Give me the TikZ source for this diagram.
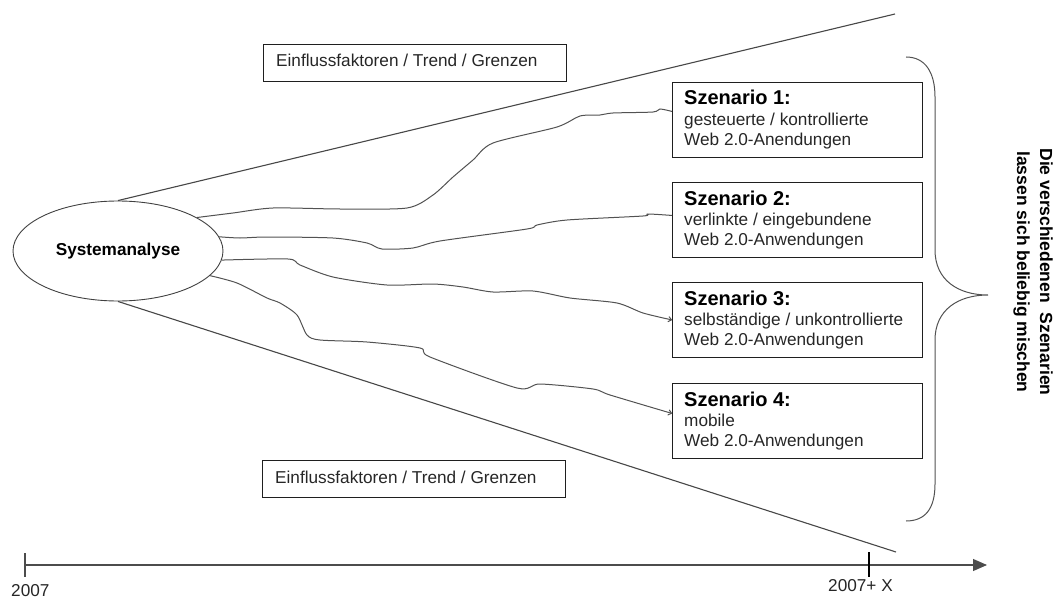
\documentclass[tikz,border=0pt]{standalone}
\usepackage{fontspec}
\setmainfont{Liberation Sans}
\usetikzlibrary{shapes.geometric,arrows.meta}
\begin{document}
\begin{tikzpicture}[x=1pt,y=-1pt,
  funnel/.style={draw=black!72, line width=1.1pt},
  wavy/.style={draw=black!68, line width=1pt},
  sbox/.style={draw=black!88, line width=0.9pt, rectangle, inner sep=0pt, minimum width=250, minimum height=75, anchor=north west},
  fbox/.style={draw=black!88, line width=0.9pt, rectangle, inner sep=0pt, minimum width=303, minimum height=37, anchor=north west},
  txt/.style={anchor=base west, inner sep=0pt, text=black!85, font=\fontsize{17.2}{20}\selectfont},
  ttl/.style={anchor=base west, inner sep=0pt, font=\fontsize{20}{22}\selectfont\bfseries},
  tip/.style={-{To[length=4pt,width=6pt]}},
  axis/.style={draw=black!70, line width=1.1pt},
]
\useasboundingbox (0,0) rectangle (1054,599);

% central ellipse
\node[ellipse, draw=black!75, line width=0.9pt, minimum width=210, minimum height=100, inner sep=0pt,
      font=\fontsize{17.2}{20}\selectfont\bfseries] (sys) at (118,251) {Systemanalyse};

% funnel
\coordinate (ftop) at (895,14);
\coordinate (fbot) at (896,552);
\draw[funnel] (sys.north) -- (ftop);
\draw[funnel] (sys.south) -- (fbot);

% influence boxes
\node[fbox] (f1) at (263,44) {};
\node[txt] at (276,67) {Einflussfaktoren / Trend / Grenzen};
\node[fbox] (f2) at (262,460) {};
\node[txt] at (275,483) {Einflussfaktoren / Trend / Grenzen};

% scenario boxes
\node[sbox] (s1) at (672,82) {};
\node[ttl] at (684,105) {Szenario 1:};
\node[txt] at (684,125) {gesteuerte / kontrollierte};
\node[txt] at (684,145) {Web 2.0-Anendungen};

\node[sbox] (s2) at (672,182) {};
\node[ttl] at (684,205) {Szenario 2:};
\node[txt] at (684,225) {verlinkte / eingebundene};
\node[txt] at (684,245) {Web 2.0-Anwendungen};

\node[sbox] (s3) at (672,282) {};
\node[ttl] at (684,305) {Szenario 3:};
\node[txt] at (684,325) {selbständige / unkontrollierte};
\node[txt] at (684,345) {Web 2.0-Anwendungen};

\node[sbox] (s4) at (672,383) {};
\node[ttl] at (684,406) {Szenario 4:};
\node[txt] at (684,426) {mobile};
\node[txt] at (684,446) {Web 2.0-Anwendungen};

% wavy connectors
\draw[wavy] plot[smooth, tension=0.45] coordinates {
  (sys.23) (233,213) (273,208) (340,209) (407,208) (433,195) (453,177)
  (473,160) (493,143) (557,127) (580,116) (600,115) (613,113) (653,112) (660,109)
  ([yshift=8.5pt]s1.west)};
\draw[wavy] plot[smooth, tension=0.45] coordinates {
  (sys.8) (240,238) (267,237) (333,238) (367,243) (382,249) (413,248) (440,241)
  (527,229) (537,225) (567,220) (643,216) (648,214) ([yshift=4.5pt]s2.west)};
\draw[wavy, tip] plot[smooth, tension=0.45] coordinates {
  (sys.-5) (288,259) (300,265) (333,277) (387,285) (433,284) (463,287) (493,292)
  (533,291) (570,298) (617,303) (643,313) (s3.west)};
\draw[wavy, tip] plot[smooth, tension=0.45] coordinates {
  (sys.-15) (237,283) (267,298) (280,303) (297,315) (307,335) (320,340) (367,342)
  (420,348) (430,357) (517,388) (540,384) (593,389) (610,395) ([yshift=7.5pt]s4.west)};

% brace
\coordinate (btop) at (906,57);
\coordinate (btip) at (988,295);
\coordinate (bbot) at (906,521);
\draw[wavy] (btop) .. controls (925,57) and (935,72) .. (935,97) -- (935,250)
  .. controls (935,280) and (958,295) .. (btip)
  .. controls (958,295) and (935,310) .. (935,340) -- (935,484)
  .. controls (935,509) and (925,521) .. (bbot);

% vertical note
\node[rotate=-90, align=center, inner sep=0pt, font=\fontsize{17.5}{23}\selectfont\bfseries] (note) at (1033,272)
  {Die verschiedenen\ \ Szenarien\\lassen sich beliebig mischen};

% time axis
\coordinate (a0) at (25,565);
\coordinate (a1) at (987,565);
\draw[axis, -{Triangle[length=14pt,width=12pt]}] (a0) -- (a1);
\coordinate (t0a) at (25,553); \coordinate (t0b) at (25,577);
\coordinate (t1a) at (869,552); \coordinate (t1b) at (869,577);
\draw[axis] (t0a) -- (t0b);
\draw[axis, draw=black] (t1a) -- (t1b);
\node[txt] (y0) at (11,596) {2007};
\node[txt] (y1) at (828,591) {2007+ X};
\end{tikzpicture}
\end{document}
